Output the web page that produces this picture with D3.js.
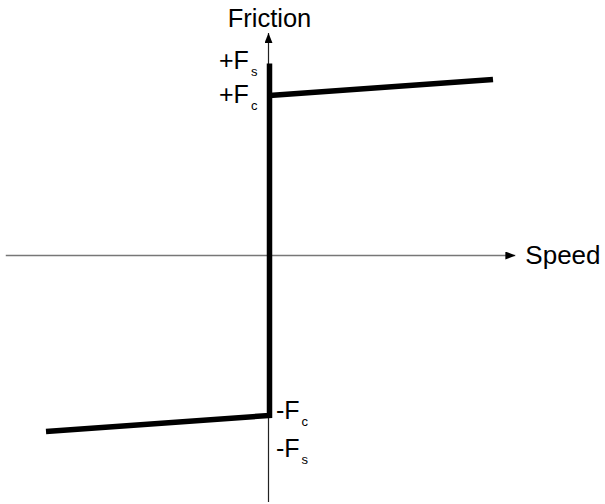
<!DOCTYPE html>
<html>
<head>
<meta charset="utf-8">
<script src="https://cdn.jsdelivr.net/npm/d3@7"></script>
<style>
  body { margin: 0; background: #fff; }
  text { font-family: 'Liberation Sans', Arial, sans-serif; fill: #000; }
</style>
</head>
<body>
<div id="chart"></div>
<script>
// friction model (normalised to Coulomb friction = 1)
const coulomb = 1;
const stiction = 1.2;
const viscous = 0.1;

// axis extents in data units
const speedExtent = [-1.18, 1.1];
const frictionExtent = [-1.54, 1.39];

// curve points [speed, friction]
const lowerBranch = [[-1, -coulomb - viscous], [0, -coulomb], [0, stiction]];
const upperBranch = [[0, coulomb], [1, coulomb + viscous]];

// level labels
const levelLabels = [
  {sign: '+', sub: 's', value: stiction, side: 'left'},
  {sign: '+', sub: 'c', value: coulomb, side: 'left'},
  {sign: '-', sub: 'c', value: -coulomb, side: 'right'},
  {sign: '-', sub: 's', value: -stiction, side: 'right'}
];

const width = 605, height = 504;

const x = d3.scaleLinear().domain([-1, 1]).range([46, 493]);
const y = d3.scaleLinear().domain([-1, 1]).range([415.5, 95.5]);

const svg = d3.select('#chart').append('svg')
  .attr('width', width)
  .attr('height', height);

const defs = svg.append('defs');
defs.append('marker')
  .attr('id', 'arrow')
  .attr('markerUnits', 'userSpaceOnUse')
  .attr('viewBox', '0 0 10 8')
  .attr('refX', 10).attr('refY', 4)
  .attr('markerWidth', 10).attr('markerHeight', 8)
  .attr('orient', 'auto')
  .append('path').attr('d', 'M0,0 L10,4 L0,8 Z').attr('fill', '#000');

// axes
svg.append('line')
  .attr('x1', x(speedExtent[0])).attr('x2', x(speedExtent[1]))
  .attr('y1', y(0)).attr('y2', y(0))
  .attr('stroke', '#777').attr('stroke-width', 1.4)
  .attr('marker-end', 'url(#arrow)');

svg.append('line')
  .attr('x1', x(0) - 1).attr('x2', x(0) - 1)
  .attr('y1', y(frictionExtent[0])).attr('y2', y(frictionExtent[1]))
  .attr('stroke', '#222').attr('stroke-width', 1.2)
  .attr('marker-end', 'url(#arrow)');

svg.append('text')
  .attr('x', x(speedExtent[1]) + 10).attr('y', y(0) + 8)
  .style('font-size', '26px')
  .text('Speed');

svg.append('text')
  .attr('x', x(0)).attr('y', 27)
  .attr('text-anchor', 'middle')
  .style('font-size', '25.5px')
  .text('Friction');

// curve
const line = d3.line().x(d => x(d[0])).y(d => y(d[1]));
[lowerBranch, upperBranch].forEach(pts => {
  svg.append('path')
    .attr('d', line(pts))
    .attr('fill', 'none')
    .attr('stroke', '#000')
    .attr('stroke-width', 5.5)
    .attr('stroke-linejoin', 'miter')
    .attr('stroke-linecap', 'butt');
});

// level labels
const labelOffset = {'+s': 5, '+c': 7.5, '-c': 3, '-s': 9};
const lbl = svg.selectAll('.lvl')
  .data(levelLabels)
  .enter().append('text')
  .attr('class', 'lvl')
  .attr('x', d => d.side === 'left' ? 219 : 276)
  .attr('y', d => y(d.value) + labelOffset[d.sign + d.sub])
  .style('font-size', '25px');
lbl.append('tspan').text(d => d.sign + 'F');
lbl.append('tspan')
  .attr('dx', 2).attr('dy', 7)
  .style('font-size', '13px')
  .text(d => d.sub);
</script>
</body>
</html>
